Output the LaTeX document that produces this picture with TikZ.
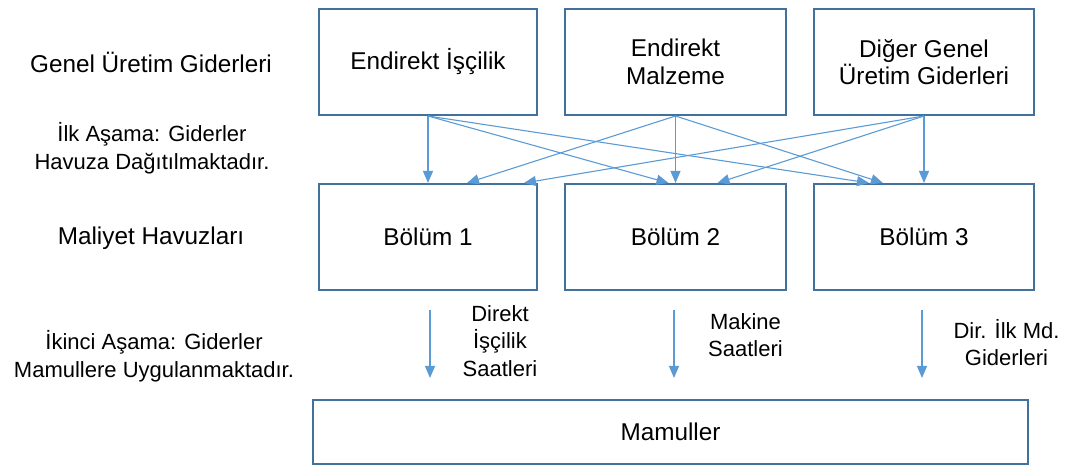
\documentclass[tikz,border=0pt]{standalone}
\usepackage{fontspec}
\setmainfont{Liberation Sans}
\usetikzlibrary{arrows.meta}
\definecolor{boxc}{HTML}{41719C}
\definecolor{arrc}{HTML}{5B9BD5}
\begin{document}
\begin{tikzpicture}[x=1pt,y=-1pt,
  box/.style={draw=boxc,line width=2pt,minimum height=106pt,inner sep=0pt,align=center,font=\fontsize{24.3}{27.5}\selectfont},
  lbl/.style={align=center,inner sep=0pt,font=\fontsize{24.3}{27.5}\selectfont},
  slbl/.style={align=center,inner sep=0pt,font=\fontsize{22}{28.5}\selectfont},
  tlbl/.style={align=center,inner sep=0pt,font=\fontsize{22}{27.5}\selectfont},
  arr/.style={draw=arrc,line width=1.1pt,-{Triangle[length=12pt,width=10pt]}}]
\useasboundingbox (0,0) rectangle (1072,465);

% left labels
\node[lbl] (l1) at (151,62) {Genel Üretim Giderleri};
\node[slbl] (l2) at (152,148) {İlk Aşama: Giderler\\Havuza Dağıtılmaktadır.};
\node[lbl] (l3) at (151,238) {Maliyet Havuzları};
\node[slbl] (l4) at (154,356) {İkinci Aşama: Giderler\\Mamullere Uygulanmaktadır.};

% top row
\node[box,minimum width=218pt] (t1) at (428,62) {Endirekt İşçilik};
\node[box,minimum width=221pt] (t2) at (675.5,62) {Endirekt\\Malzeme};
\node[box,minimum width=220pt] (t3) at (924,62) {Diğer Genel\\Üretim Giderleri};

% middle row
\node[box,minimum width=218pt] (b1) at (428,237) {Bölüm 1};
\node[box,minimum width=221pt] (b2) at (675.5,237) {Bölüm 2};
\node[box,minimum width=220pt] (b3) at (924,237) {Bölüm 3};

% bottom
\node[box,minimum width=715pt,minimum height=64pt] (m) at (670.5,432) {Mamuller};

% first stage arrows
\draw[arr] (t1.south) -- (b1.north);
\draw[arr] (t1.south) -- ([xshift=-7pt]b2.north);
\draw[arr] (t1.south) -- ([xshift=-55pt]b3.north);
\draw[arr] (t2.south) -- ([xshift=39pt]b1.north);
\draw[arr] (t2.south) -- (b2.north);
\draw[arr] (t2.south) -- ([xshift=-41pt]b3.north);
\draw[arr] (t3.south) -- ([xshift=96pt]b1.north);
\draw[arr] (t3.south) -- ([xshift=42pt]b2.north);
\draw[arr] (t3.south) -- (b3.north);

% second stage arrows
\coordinate (s1) at (430,310); \coordinate (e1) at (430,378);
\coordinate (s2) at (674,310); \coordinate (e2) at (674,378);
\coordinate (s3) at (922,310); \coordinate (e3) at (922,378);
\draw[arr] (s1) -- (e1);
\draw[arr] (s2) -- (e2);
\draw[arr] (s3) -- (e3);

\node[tlbl] (d1) at (500,341) {Direkt\\İşçilik\\Saatleri};
\node[tlbl] (d2) at (745.5,335) {Makine\\Saatleri};
\node[tlbl] (d3) at (1006.5,342.5) {Dir. İlk Md.\\Giderleri};
\end{tikzpicture}
\end{document}
